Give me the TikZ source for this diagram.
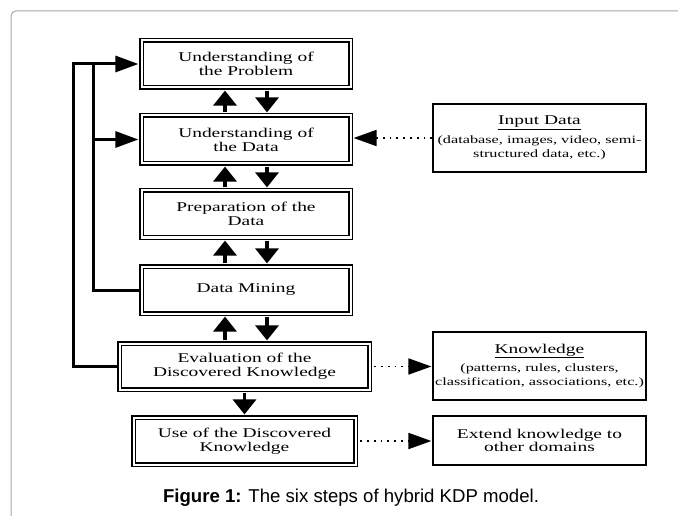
\documentclass[tikz,border=0pt]{standalone}
\usepackage{fontspec}
\usetikzlibrary{arrows.meta,calc}
\newfontfamily\boxfont[FakeStretch=1.45]{Liberation Serif}
\newfontfamily\capfont{Liberation Sans}
\newcommand{\subsz}{\fontsize{11.2}{14}\selectfont}
\begin{document}
\begin{tikzpicture}[x=1pt,y=-1pt,
  stepbox/.style={draw, double, double distance=2pt, line width=1.4pt, inner sep=0pt, align=center, font=\boxfont\fontsize{13.4}{13.8}\selectfont},
  sidebox/.style={draw, line width=1.6pt, inner sep=0pt, align=center, font=\boxfont\fontsize{13.4}{13.8}\selectfont, minimum width=213pt},
  fb/.style={line width=3pt},
  harrow/.style={-{Triangle[length=23pt,width=16pt]}},
  varrow/.style={line width=3.5pt, -{Triangle[length=15pt,width=23pt]}, shorten >=2.4pt, shorten <=2.4pt},
  dotarrow/.style={line width=1.8pt, dash pattern=on 1.8pt off 5pt, -{Triangle[length=23pt,width=16pt]}}
]
\useasboundingbox (0,0) rectangle (678,516);
\fill[white] (0,0) rectangle (678,516);
% outer frame
\draw[draw=black!35, line width=1pt, rounded corners=5pt] (11,530) -- (11,11) -- (690,11);

% step boxes
\node[stepbox, minimum width=209pt, minimum height=47pt] (b1) at (246,64) {Understanding of\\the Problem};
\node[stepbox, minimum width=209pt, minimum height=48pt] (b2) at (246,139.5) {Understanding of\\the Data};
\node[stepbox, minimum width=209pt, minimum height=47pt] (b3) at (246,214) {Preparation of the\\Data};
\node[stepbox, minimum width=209pt, minimum height=47pt] (b4) at (246,290) {Data Mining};
\node[stepbox, minimum width=250pt, minimum height=46pt] (b5) at (244.5,366.5) {Evaluation of the\\Discovered Knowledge};
\node[stepbox, minimum width=222pt, minimum height=47pt] (b6) at (244.5,441) {Use of the Discovered\\Knowledge};

% side boxes
\node[sidebox, minimum height=68pt] (inp) at (539.5,138) {\underline{Input Data}\\[5pt]\subsz(database, images, video, semi-\\\subsz structured data, etc.)};
\node[sidebox, minimum height=68pt] (know) at (539.5,366) {\underline{Knowledge}\\[5pt]\subsz(patterns, rules, clusters,\\\subsz classification, associations, etc.)};
\node[sidebox, minimum height=49pt] (ext) at (539.5,440.5) {Extend knowledge to\\other domains};

% feedback lines
\coordinate (L1) at (73,0);
\coordinate (L2) at (93,0);
\draw[fb, harrow, shorten >=2.4pt] (b5.west) -- (b5.west -| L1) |- (b1.west);
\draw[fb] (b4.west) -- (b4.west -| L2) -- (b1.west -| L2);
\draw[fb, harrow, shorten >=2.4pt] (b2.west -| L2) -- (b2.west);

% vertical arrows
\foreach \a/\b in {b1/b2,b2/b3,b3/b4,b4/b5}{
  \draw[varrow] ($(\a.south |- \b.north)+(-21,0)$) -- ($(\a.south)+(-21,0)$);
  \draw[varrow] ($(\a.south)+(21,0)$) -- ($(\a.south |- \b.north)+(21,0)$);
}
\draw[varrow] (b5.south -| b6.north) -- (b6.north);

% dotted arrows
\draw[dotarrow, shorten >=2.4pt] (inp.west) -- (inp.west -| b2.east);
\draw[dotarrow, shorten <=4pt, shorten >=0.8pt] (b5.east) -- (b5.east -| know.west);
\draw[dotarrow, shorten <=4pt, shorten >=0.8pt] (b6.east) -- (b6.east -| ext.west);

% caption
\node[font=\capfont\fontsize{18.6}{21}\selectfont] (cap) at (351,498) {\textbf{Figure 1:} The six steps of hybrid KDP model.};
\end{tikzpicture}
\end{document}
